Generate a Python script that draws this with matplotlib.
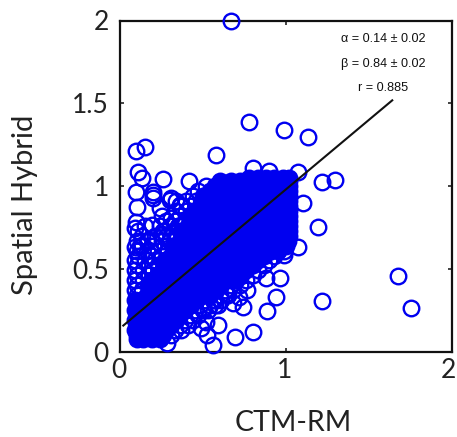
#!/usr/bin/env python
# -*- coding: utf-8 -*-
import matplotlib
matplotlib.use("Agg")  # sin GUI
import matplotlib.pyplot as plt
from matplotlib.transforms import ScaledTranslation

# puntos sueltos, leidos a ojo
loose_x = [0.667, 0.777, 0.986, 1.134, 0.578, 0.096, 0.15, 0.11, 0.13, 0.257, 0.416, 0.80, 0.898, 1.072,
           1.217, 1.295, 1.193, 1.072, 1.10, 1.675, 1.75, 1.217, 0.964, 0.88, 0.938, 0.887, 0.80, 0.693,
           0.592, 0.522, 0.558, 0.988, 0.763, 0.743, 0.68, 0.59, 0.56, 0.281, 0.10, 0.2, 0.09, 0.19, 0.13,
           0.31, 0.095, 0.2, 0.2, 0.30, 0.36, 0.095, 0.31, 0.09, 0.17, 0.25, 0.24, 0.715, 0.64, 0.52, 0.49]
loose_y = [2.0, 1.386, 1.337, 1.298, 1.187, 1.21, 1.235, 1.085, 1.048, 1.04, 1.03, 1.108, 1.09, 1.085,
           1.025, 1.037, 0.754, 0.633, 0.897, 0.456, 0.263, 0.307, 0.446, 0.444, 0.331, 0.247, 0.12, 0.087,
           0.16, 0.10, 0.039, 0.583, 0.372, 0.27, 0.292, 0.281, 0.311, 0.051, 0.875, 0.945, 0.746, 0.764,
           0.643, 0.927, 0.966, 0.966, 0.93, 0.915, 0.885, 0.78, 0.807, 0.633, 0.674, 0.71, 0.87, 0.33, 0.35,
           0.18, 0.14]

# nube densa, fila por fila (y -> lista de x)
dense_y = [0.075, 0.10, 0.13, 0.16, 0.19, 0.22, 0.25, 0.28, 0.31, 0.34, 0.37, 0.40, 0.43, 0.46, 0.49, 0.52,
           0.55, 0.58, 0.61, 0.64, 0.67, 0.70, 0.73, 0.76, 0.79, 0.82, 0.85, 0.88, 0.91, 0.94, 0.97, 1.00, 1.03,
           1.05]
dense_x = [
    [0.10, 0.14, 0.19, 0.24],
    [0.10, 0.13, 0.17, 0.22, 0.26, 0.31],
    [0.09, 0.12, 0.18, 0.23, 0.28, 0.33, 0.37],
    [0.10, 0.15, 0.20, 0.26, 0.31, 0.36, 0.41],
    [0.09, 0.13, 0.18, 0.23, 0.28, 0.34, 0.39, 0.44],
    [0.10, 0.15, 0.21, 0.26, 0.31, 0.36, 0.42, 0.47],
    [0.09, 0.13, 0.18, 0.24, 0.29, 0.34, 0.39, 0.45, 0.50, 0.53],
    [0.10, 0.16, 0.21, 0.27, 0.32, 0.37, 0.43, 0.48, 0.54, 0.57],
    [0.09, 0.13, 0.19, 0.24, 0.30, 0.35, 0.40, 0.46, 0.51, 0.57, 0.61],
    [0.10, 0.16, 0.22, 0.27, 0.33, 0.38, 0.44, 0.49, 0.54, 0.60, 0.65],
    [0.09, 0.13, 0.19, 0.25, 0.30, 0.36, 0.41, 0.47, 0.52, 0.58, 0.63, 0.68],
    [0.10, 0.17, 0.22, 0.28, 0.34, 0.39, 0.45, 0.50, 0.56, 0.61, 0.67, 0.72],
    [0.09, 0.14, 0.20, 0.25, 0.31, 0.37, 0.42, 0.48, 0.53, 0.59, 0.64, 0.70, 0.76],
    [0.10, 0.17, 0.23, 0.28, 0.34, 0.40, 0.45, 0.51, 0.56, 0.62, 0.68, 0.73, 0.80],
    [0.09, 0.14, 0.20, 0.26, 0.32, 0.37, 0.43, 0.48, 0.54, 0.60, 0.65, 0.71, 0.76, 0.83],
    [0.10, 0.17, 0.23, 0.29, 0.35, 0.40, 0.46, 0.52, 0.57, 0.63, 0.68, 0.74, 0.80, 0.87],
    [0.09, 0.15, 0.21, 0.27, 0.33, 0.38, 0.44, 0.49, 0.55, 0.61, 0.66, 0.72, 0.78, 0.83, 0.90],
    [0.11, 0.19, 0.25, 0.31, 0.36, 0.42, 0.47, 0.53, 0.58, 0.64, 0.69, 0.75, 0.81, 0.87, 0.93],
    [0.10, 0.16, 0.23, 0.29, 0.34, 0.40, 0.45, 0.51, 0.56, 0.62, 0.67, 0.73, 0.79, 0.85, 0.91, 0.95, 0.99],
    [0.12, 0.20, 0.27, 0.32, 0.38, 0.43, 0.49, 0.54, 0.60, 0.65, 0.71, 0.77, 0.82, 0.88, 0.94, 0.97, 1.00],
    [0.10, 0.16, 0.25, 0.30, 0.36, 0.41, 0.47, 0.52, 0.58, 0.63, 0.69, 0.75, 0.80, 0.86, 0.91, 0.97, 1.01],
    [0.13, 0.21, 0.28, 0.34, 0.39, 0.45, 0.50, 0.56, 0.61, 0.67, 0.73, 0.78, 0.84, 0.89, 0.95, 0.99, 1.02],
    [0.11, 0.26, 0.32, 0.37, 0.43, 0.48, 0.54, 0.59, 0.65, 0.71, 0.76, 0.82, 0.87, 0.93, 0.98, 1.02],
    [0.15, 0.24, 0.30, 0.35, 0.41, 0.46, 0.52, 0.57, 0.63, 0.69, 0.74, 0.80, 0.85, 0.91, 0.96, 0.99, 1.02],
    [0.28, 0.33, 0.39, 0.44, 0.50, 0.55, 0.61, 0.67, 0.72, 0.78, 0.83, 0.89, 0.94, 0.99, 1.02],
    [0.25, 0.36, 0.42, 0.47, 0.53, 0.59, 0.65, 0.70, 0.76, 0.81, 0.87, 0.92, 0.97, 0.99, 1.02],
    [0.34, 0.40, 0.45, 0.51, 0.57, 0.63, 0.68, 0.74, 0.79, 0.85, 0.90, 0.95, 0.99, 1.02],
    [0.36, 0.42, 0.48, 0.54, 0.60, 0.66, 0.71, 0.77, 0.83, 0.88, 0.93, 0.98, 1.02],
    [0.34, 0.40, 0.46, 0.52, 0.58, 0.64, 0.69, 0.75, 0.80, 0.86, 0.91, 0.96, 0.99, 1.02],
    [0.44, 0.50, 0.56, 0.62, 0.67, 0.73, 0.78, 0.84, 0.89, 0.94, 0.98, 1.02],
    [0.47, 0.54, 0.60, 0.65, 0.71, 0.76, 0.82, 0.87, 0.92, 0.97, 1.02],
    [0.52, 0.57, 0.63, 0.69, 0.74, 0.80, 0.85, 0.90, 0.95, 0.99, 1.02],
    [0.60, 0.67, 0.72, 0.78, 0.83, 0.88, 0.93, 0.97, 1.02],
    [0.78, 0.83, 0.88, 0.93, 0.98, 1.02],
]
# donde los aros se solapan tanto que se ve azul macizo: por fila, desde y hasta que x
solid_from = [0.0, 0.0, 0.0, 0.0, 0.0, 0.0, 0.0, 0.0, 0.0, 0.12, 0.14, 0.16, 0.18, 0.20, 0.22, 0.24,
              0.26, 0.28, 0.30, 0.31, 0.33, 0.35, 0.37, 0.38, 0.40, 0.42, 0.44, 0.46, 0.48, 0.50, 0.52, 0.55, 0.60,
              0.75]
solid_to = [0.25, 0.27, 0.29, 0.32, 0.35, 0.38, 0.42, 0.46, 0.50, 0.55, 0.59, 0.63, 0.70, 0.74, 0.78, 0.82,
            0.85, 0.88, 0.96, 1.1, 1.1, 1.1, 1.1, 1.1, 1.1, 1.1, 1.1, 1.1, 1.1, 1.1, 1.1, 1.1, 1.1,
            1.1]

# ajuste lineal y textos
alpha_fit = 0.14
beta_fit = 0.84
fit_x = [0.02, 1.64]
stats = ["\u03b1 = 0.14 \u00b1 0.02", "\u03b2 = 0.84 \u00b1 0.02", "r = 0.885"]
stats_y = [1.89, 1.735, 1.59]
x_ticks = [0, 1, 2]
y_ticks = [0, 0.5, 1, 1.5, 2]
y_tick_labels = ["0", "0.5", "1", "1.5", "2"]

W, H = 457, 437
BLUE = "#0000f0"
plt.rcParams["font.family"] = ["Lato", "DejaVu Sans"]
fig = plt.figure(figsize=(W / 100, H / 100), dpi=100)
ax = fig.add_axes([120 / W, 1 - 351.5 / H, 332 / W, 331 / H])

hollow_x, hollow_y = list(loose_x), list(loose_y)
solid_x, solid_y = [], []
for y, row, lo, hi in zip(dense_y, dense_x, solid_from, solid_to):
    for x in row:
        if lo <= x <= hi:
            solid_x.append(x)
            solid_y.append(y)
        else:
            hollow_x.append(x)
            hollow_y.append(y)
ax.plot(solid_x, solid_y, linestyle="none", marker="o", markerfacecolor=BLUE, markeredgecolor=BLUE,
        markersize=11.2, markeredgewidth=1.7, zorder=4)
ax.plot(hollow_x, hollow_y, linestyle="none", marker="o", markerfacecolor="none", markeredgecolor=BLUE,
        markersize=11.2, markeredgewidth=1.7, clip_on=False, zorder=5)
ax.plot(fit_x, [alpha_fit + beta_fit * v for v in fit_x], color="#111111", linewidth=1.5, zorder=6)

for txt, y in zip(stats, stats_y):
    ax.text(1.585, y, txt, ha="center", va="center", fontsize=9.1, color="#111111", family=["Liberation Sans", "DejaVu Sans"])

ax.set_xlim(0, 2)
ax.set_ylim(0, 2)
ax.set_xticks(x_ticks)
ax.set_xticklabels([str(v) for v in x_ticks])
ax.set_yticks(y_ticks)
ax.set_yticklabels(y_tick_labels)
ax.tick_params(direction="in", top=True, right=True, length=3, width=1.2, labelsize=19, colors="#222222", pad=5)
ax.tick_params(axis="y", pad=8)
for lab, dx in zip(ax.get_xticklabels(), [-1.5, -1.5, -3.5]):
    lab.set_transform(lab.get_transform() + ScaledTranslation(dx / 100, 0, fig.dpi_scale_trans))
for s in ax.spines.values():
    s.set_linewidth(1.6)
    s.set_color("#111111")

fig.text(293 / W, 1 - 423 / H, "CTM-RM", ha="center", va="center", fontsize=20.5, color="#222222")
fig.text(25 / W, 1 - 205 / H, "Spatial Hybrid", ha="center", va="center", rotation=90, fontsize=21, color="#222222")

fig.savefig("out.png", dpi=100)
plt.close(fig)
